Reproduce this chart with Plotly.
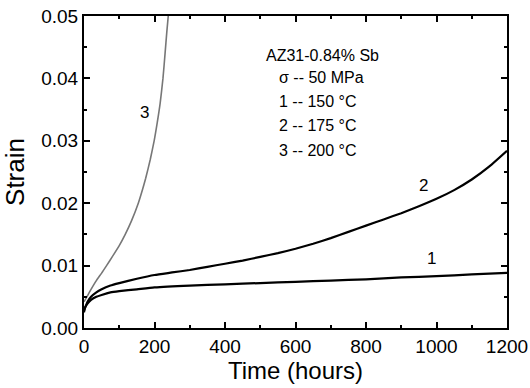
import plotly.graph_objects as go

# Curve 1: 150 C
t1 = [0, 3, 10, 20, 35, 50, 75, 100, 150, 200, 300, 400, 500, 600, 700, 800, 900, 1000, 1100, 1200]
s1 = [0.0025, 0.0033, 0.0039, 0.0045, 0.0050, 0.0053, 0.0057, 0.0059, 0.0062, 0.0065, 0.0068, 0.0070,
      0.0072, 0.0074, 0.0076, 0.0078, 0.0081, 0.0083, 0.0086, 0.00885]

# Curve 2: 175 C
t2 = [0, 5, 10, 20, 35, 50, 75, 100, 150, 200, 250, 300, 350, 400, 450, 500, 550, 600, 650, 700,
      750, 800, 850, 900, 950, 1000, 1050, 1100, 1150, 1200]
s2 = [0.0028, 0.0035, 0.0042, 0.0050, 0.0057, 0.0062, 0.0068, 0.0072, 0.0079, 0.0085, 0.0089, 0.0093,
      0.0098, 0.0103, 0.0108, 0.0114, 0.0120, 0.0127, 0.0135, 0.0144, 0.0154, 0.0164, 0.0174, 0.0184,
      0.0195, 0.0207, 0.0221, 0.0238, 0.0259, 0.0284]

# Curve 3: 200 C
t3 = [0, 10, 20, 35, 50, 64, 80, 100, 117, 135, 154, 165, 175, 188, 199, 208, 216, 224, 230, 235, 239]
s3 = [0.0042, 0.0052, 0.0062, 0.0076, 0.0088, 0.0100, 0.0114, 0.0132, 0.0150, 0.0172, 0.0200, 0.0220,
      0.0240, 0.0270, 0.0300, 0.0330, 0.0360, 0.0400, 0.0440, 0.0475, 0.0500]

curve_labels = ["1", "2", "3"]
label_x = [986, 962, 173]
label_y = [0.0111, 0.0229, 0.0345]

info_lines = ["AZ31-0.84% Sb", "σ -- 50 MPa", "1 -- 150 °C", "2 -- 175 °C", "3 -- 200 °C"]
info_x = [677, 547, 547, 547, 547]
info_y = [0.0437, 0.0402, 0.0363, 0.0324, 0.0284]

FONT = "Liberation Sans, Arial, sans-serif"

fig = go.Figure()
fig.add_trace(go.Scatter(x=t1, y=s1, mode="lines", line=dict(color="black", width=2.2, shape="spline", smoothing=0.5), showlegend=False))
fig.add_trace(go.Scatter(x=t2, y=s2, mode="lines", line=dict(color="black", width=2.2, shape="spline", smoothing=0.5), showlegend=False))
fig.add_trace(go.Scatter(x=t3, y=s3, mode="lines", line=dict(color="#777777", width=1.6, shape="spline", smoothing=0.5), showlegend=False))

for txt, x, y in zip(curve_labels, label_x, label_y):
    fig.add_annotation(x=x, y=y, text=txt, showarrow=False, font=dict(family=FONT, size=17, color="black"))

for i, (txt, x, y) in enumerate(zip(info_lines, info_x, info_y)):
    fig.add_annotation(x=x, y=y, text=txt, showarrow=False,
                       xanchor="center" if i == 0 else "left",
                       font=dict(family=FONT, size=16, color="black"))

axis_common = dict(
    showline=True, linecolor="black", linewidth=2, mirror="ticks",
    ticks="inside", ticklen=6, tickwidth=2, tickcolor="black",
    showgrid=False, zeroline=False, automargin=False,
    tickfont=dict(family=FONT, size=19, color="black"),
)
fig.update_xaxes(range=[0, 1200], dtick=200, tick0=0,
                 minor=dict(ticks="inside", ticklen=3, tickwidth=1.5, tickcolor="black", dtick=100),
                 title=dict(text="Time (hours)", font=dict(family=FONT, size=24, color="black"), standoff=6),
                 **axis_common)
fig.update_yaxes(range=[0, 0.05], dtick=0.01, tick0=0, tickformat=".2f",
                 minor=dict(ticks="inside", ticklen=3, tickwidth=1.5, tickcolor="black", dtick=0.005),
                 title=dict(text="Strain", font=dict(family=FONT, size=26, color="black"), standoff=9),
                 **axis_common)

fig.update_layout(width=530, height=388, margin=dict(l=84, r=23, t=16, b=60),
                  plot_bgcolor="white", paper_bgcolor="white")
fig.write_html("out.html")
